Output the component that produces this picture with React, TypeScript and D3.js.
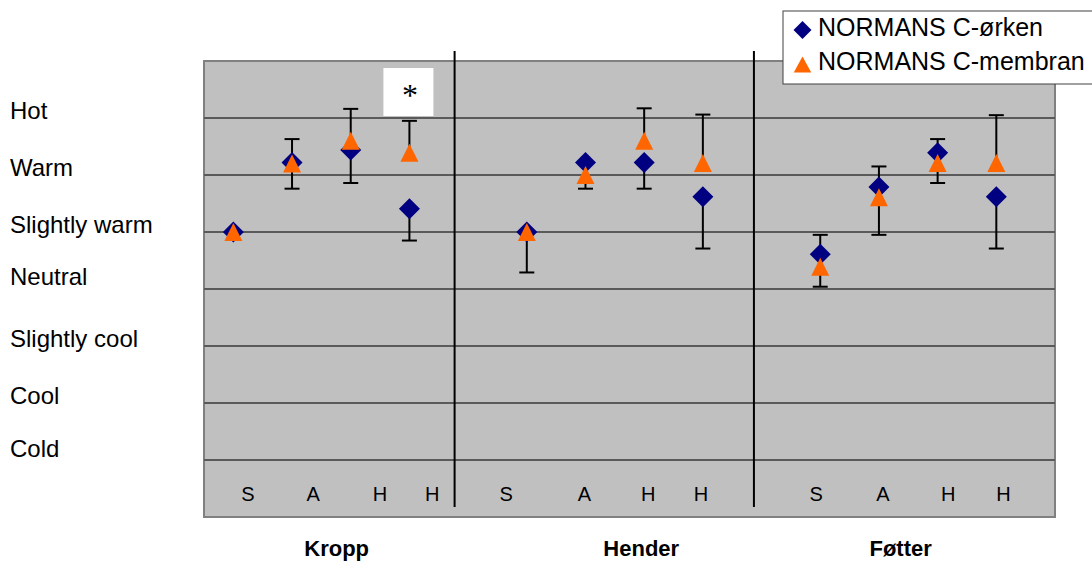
import React from "react";
import * as d3 from "d3";

// ---- data ----
const categories = ["S", "A", "H", "H", "S", "A", "H", "H", "S", "A", "H", "H"];
const slotIndex = [0, 1, 2, 3, 5, 6, 7, 8, 10, 11, 12, 13];
const labelSlot = [0.25, 1.36, 2.5, 3.39, 4.65, 5.98, 7.07, 7.97, 9.93, 11.07, 12.18, 13.12];
const orkenValues = [1.0, 2.22, 2.44, 1.41, 1.0, 2.22, 2.22, 1.62, 0.61, 1.79, 2.39, 1.62];
const membranValues = [1.0, 2.2, 2.6, 2.39, 1.0, 2.0, 2.6, 2.21, 0.39, 1.61, 2.21, 2.21];
const membranPlusErr = [0.0, 0.43, 0.56, 0.56, 0.0, 0.2, 0.57, 0.85, 0.56, 0.54, 0.42, 0.84];
const orkenMinusErr = [0.0, 0.46, 0.58, 0.56, 0.71, 0.46, 0.46, 0.91, 0.57, 0.84, 0.53, 0.91];
const groupNames = ["Kropp", "Hender", "Føtter"];
const groupCenters = [1.76, 6.95, 11.37];
const dividerSlots = [3.77, 8.87];
const scaleLabels = ["Hot", "Warm", "Slightly warm", "Neutral", "Slightly cool", "Cool", "Cold"];
const scaleValues = [3, 2, 1, 0, -1, -2, -3];
const seriesNames = ["NORMANS C-ørken", "NORMANS C-membran"];
const significant = [3];

const W = 1092;
const H = 562;
const plot = { left: 204, right: 1055, top: 61, bottom: 517 };

const x = d3.scaleLinear().domain([-0.5, 14]).range([plot.left, plot.right]);
const y = d3.scaleLinear().domain([-4, 4]).range([plot.bottom, plot.top]);

const BLUE = "#000080";
const ORANGE = "#FF6600";
const FONT = "Arial, 'Liberation Sans', Helvetica, sans-serif";

function diamond(cx: number, cy: number, r: number) {
  return `M${cx},${cy - r}L${cx + r},${cy}L${cx},${cy + r}L${cx - r},${cy}Z`;
}
function triangle(cx: number, cy: number, w: number, h: number) {
  return `M${cx},${cy - h / 2}L${cx + w / 2},${cy + h / 2}L${cx - w / 2},${cy + h / 2}Z`;
}

export default function App() {
  const cap = 7.5;
  const bars: { x: number; y0: number; y1: number }[] = [];
  slotIndex.forEach((s, i) => {
    if (membranPlusErr[i] > 0)
      bars.push({ x: x(s), y0: y(membranValues[i]), y1: y(membranValues[i] + membranPlusErr[i]) });
    if (orkenMinusErr[i] > 0)
      bars.push({ x: x(s), y0: y(orkenValues[i]), y1: y(orkenValues[i] - orkenMinusErr[i]) });
  });
  const gridVals = d3.range(-3, 4);

  return (
    <svg
      width={W}
      height={H}
      style={{ position: "absolute", left: 0, top: 0, background: "#fff" }}
      fontFamily={FONT}
    >
      {/* plot area */}
      <rect
        x={plot.left}
        y={plot.top}
        width={plot.right - plot.left}
        height={plot.bottom - plot.top}
        fill="#C0C0C0"
        stroke="#808080"
        strokeWidth={2}
      />
      {gridVals.map((v) => (
        <line
          key={v}
          x1={plot.left}
          x2={plot.right}
          y1={y(v)}
          y2={y(v)}
          stroke="#5a5a5a"
          strokeWidth={2}
        />
      ))}

      {/* dividers */}
      {dividerSlots.map((d, i) => (
        <line key={i} x1={x(d)} x2={x(d)} y1={51} y2={507} stroke="#000" strokeWidth={2} />
      ))}

      {/* y labels */}
      {scaleLabels.map((l, i) => (
        <text key={l} x={10} y={y(scaleValues[i]) + (scaleValues[i] === 0 ? -4 : scaleValues[i] === -3 ? -3 : 1)} fontSize={24} fill="#000">
          {l}
        </text>
      ))}

      {/* significance box */}
      {significant.map((i) => (
        <g key={i}>
          <rect x={x(slotIndex[i]) - 26} y={68} width={50} height={48} fill="#fff" />
          <text
            x={x(slotIndex[i]) + 0.5}
            y={106}
            textAnchor="middle"
            fontSize={32}
            fontFamily="'Liberation Serif', 'Times New Roman', serif"
          >
            *
          </text>
        </g>
      ))}

      {/* error bars */}
      {bars.map((b, i) => (
        <g key={i} stroke="#000" strokeWidth={2}>
          <line x1={b.x} x2={b.x} y1={b.y0} y2={b.y1} />
          <line x1={b.x - cap} x2={b.x + cap} y1={b.y1} y2={b.y1} />
        </g>
      ))}

      {/* markers */}
      {slotIndex.map((s, i) => (
        <path key={"d" + i} d={diamond(x(s), y(orkenValues[i]), 10.5)} fill={BLUE} />
      ))}
      {slotIndex.map((s, i) => (
        <path key={"t" + i} d={triangle(x(s), y(membranValues[i]), 18, 18)} fill={ORANGE} />
      ))}

      {/* category labels */}
      {categories.map((c, i) => (
        <text key={i} x={x(labelSlot[i])} y={501} textAnchor="middle" fontSize={20} fill="#000">
          {c}
        </text>
      ))}

      {/* group titles */}
      {groupNames.map((g, i) => (
        <text
          key={g}
          x={x(groupCenters[i])}
          y={556}
          textAnchor="middle"
          fontSize={22}
          fontWeight="bold"
          fill="#000"
        >
          {g}
        </text>
      ))}

      {/* legend */}
      <rect x={783} y={11} width={320} height={73} fill="#fff" stroke="#404040" strokeWidth={1} />
      <path d={diamond(802.5, 30, 9)} fill={BLUE} />
      <path d={triangle(802.5, 64.5, 17.5, 16)} fill={ORANGE} />
      {seriesNames.map((n, i) => (
        <text key={n} x={818} y={36 + i * 33.5} fontSize={25} fill="#000">
          {n}
        </text>
      ))}
    </svg>
  );
}
